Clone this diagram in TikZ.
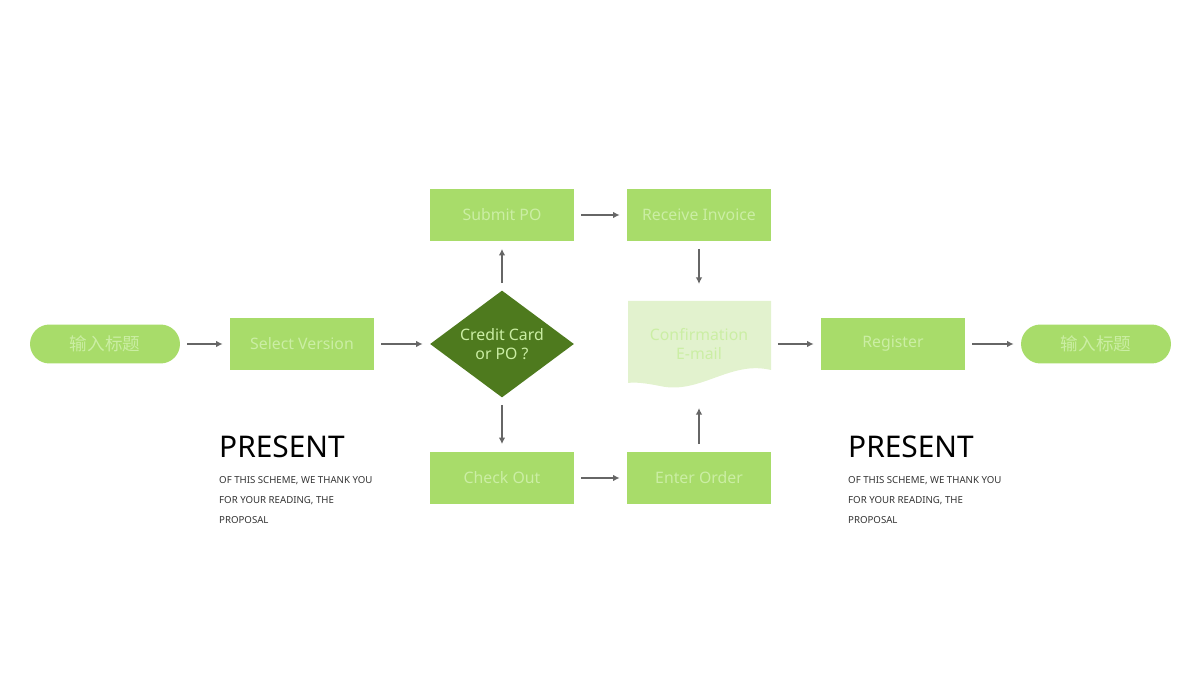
\documentclass[tikz,border=0pt]{standalone}
\usepackage{fontspec}
\setmainfont{Noto Sans}
\newfontfamily\cjk{Noto Sans CJK SC}
\usetikzlibrary{shapes.geometric,arrows.meta}
\definecolor{leafgreen}{HTML}{A8DC6A}
\definecolor{leafdark}{HTML}{4E7A1E}
\definecolor{leafpale}{HTML}{E2F2CE}
\definecolor{leaftext}{HTML}{CBEEA4}
\definecolor{arrowgray}{HTML}{666666}
\tikzset{
  stage/.style={rectangle, fill=leafgreen, text=leaftext, minimum width=2.88cm, minimum height=1.06cm, font=\fontsize{9}{10}\selectfont},
  term/.style={rectangle, rounded corners=0.39cm, fill=leafgreen, text=leaftext, minimum width=3cm, minimum height=0.78cm, font=\cjk\fontsize{10}{11}\selectfont},
  link/.style={-{Latex[length=1.3mm,width=1.3mm]}, arrowgray, line width=0.8pt, shorten >=4pt, shorten <=4pt},
  title/.style={anchor=west, font=\bfseries\fontsize{17}{18}\selectfont},
  blurb/.style={anchor=north west, align=left, font=\fontsize{5.5}{11.5}\selectfont, text=black!80}
}
\begin{document}
\begin{tikzpicture}[x=0.02cm, y=-0.02cm]
  \useasboundingbox (0,0) rectangle (1200,675);

  % Confirmation document shape
  \fill[leafpale] (628,301) -- (771,301) -- (771,370)
    .. controls (730,360) and (700,395) .. (660,386)
    .. controls (645,383) and (635,382) .. (628,383) -- cycle;

  % Nodes
  \node[term] (start) at (105,344) {输入标题};
  \node[stage] (select) at (302,344) {Select Version};
  \node[diamond, fill=leafdark, text=leaftext, minimum width=2.88cm, minimum height=2.14cm, inner sep=0pt, aspect=1.35, align=center, font=\fontsize{9}{10.5}\selectfont] (choice) at (502,344) {Credit Card\\or PO ?};
  \node[stage] (submit) at (502,215) {Submit PO};
  \node[stage] (invoice) at (699,215) {Receive Invoice};
  \node[rectangle, minimum width=2.86cm, minimum height=1.06cm, text=leaftext, align=center, font=\fontsize{9}{10.5}\selectfont] (confirm) at (699,344) {Confirmation\\E-mail};
  \node[stage] (register) at (893,344) {Register};
  \node[term] (finish) at (1096,344) {输入标题};
  \node[stage] (checkout) at (502,478) {Check Out};
  \node[stage] (order) at (699,478) {Enter Order};
  \coordinate (confTop) at (699,291);
  \coordinate (confBot) at (699,401);

  % Connectors
  \draw[link] (start) -- (select);
  \draw[link] (select) -- (choice);
  \draw[link] (choice) -- (submit);
  \draw[link] (choice) -- (checkout);
  \draw[link] (submit) -- (invoice);
  \draw[link] (invoice) -- (confTop);
  \draw[link] (checkout) -- (order);
  \draw[link] (order) -- (confBot);
  \draw[link] (confirm) -- (register);
  \draw[link] (register) -- (finish);

  % Captions
  \node[title] (presentA) at (213,447) {PRESENT};
  \node[blurb] (textA) at (213,470) {OF THIS SCHEME, WE THANK YOU\\FOR YOUR READING, THE\\PROPOSAL};
  \node[title] (presentB) at (842,447) {PRESENT};
  \node[blurb] (textB) at (842,470) {OF THIS SCHEME, WE THANK YOU\\FOR YOUR READING, THE\\PROPOSAL};
\end{tikzpicture}
\end{document}
